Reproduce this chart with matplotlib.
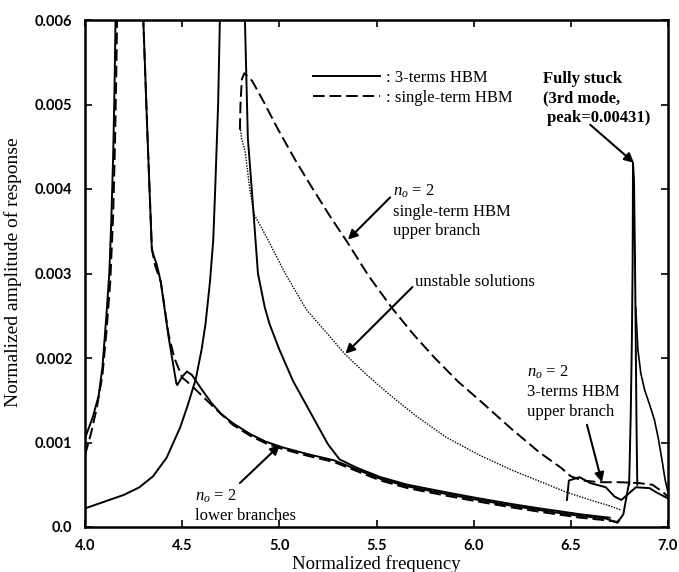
import matplotlib
matplotlib.use("Agg")
import matplotlib.pyplot as plt
import numpy as np

# ---------------- data ----------------
# 1st mode, 3-terms HBM (solid), continues into lower branch
m1_solid_f = [4.00, 4.04, 4.07, 4.09, 4.11, 4.125, 4.135, 4.145, 4.152, 4.157, 4.162, 4.23,
              4.285, 4.30, 4.322, 4.344, 4.352, 4.37, 4.39, 4.43, 4.47, 4.475, 4.50, 4.525,
              4.55, 4.60, 4.65, 4.70, 4.76, 4.85, 4.93, 5.02, 5.15, 5.28, 5.40, 5.52, 5.66,
              5.86, 6.00, 6.20, 6.34, 6.55, 6.68, 6.74, 6.77, 6.80]
m1_solid_a = [0.00105, 0.0013, 0.00155, 0.0019, 0.0025, 0.0030, 0.0036, 0.0044, 0.0052, 0.0060, 0.0072, 0.02,
              0.0072, 0.0060, 0.0046, 0.00328, 0.00322, 0.0031, 0.0029, 0.00225, 0.0017, 0.00168, 0.00178, 0.00184,
              0.0018, 0.00163, 0.00147, 0.00134, 0.00123, 0.00110, 0.00101, 0.00094, 0.00086, 0.00079, 0.00068, 0.00057, 0.00048,
              0.00039, 0.00033, 0.00025, 0.00020, 0.00013, 0.00010, 0.00005, 0.00015, 0.00053]

# 1st mode, single-term HBM (dashed), continues into lower branch
m1_dash_f = [4.00, 4.03, 4.06, 4.09, 4.11, 4.13, 4.145, 4.155, 4.162, 4.167, 4.17, 4.23,
             4.285, 4.30, 4.322, 4.344, 4.36, 4.39, 4.43, 4.46, 4.50, 4.55, 4.59, 4.68, 4.76,
             4.85, 4.93, 5.02, 5.15, 5.28, 5.40, 5.52, 5.66, 5.86, 6.00, 6.20, 6.34, 6.55,
             6.68, 6.74, 6.76]
m1_dash_a = [0.00085, 0.0011, 0.0014, 0.0018, 0.0023, 0.0029, 0.0037, 0.0046, 0.0055, 0.0063, 0.0072, 0.02,
             0.0072, 0.0060, 0.0046, 0.0033, 0.0031, 0.0029, 0.00228, 0.0020, 0.00177, 0.00167, 0.00158, 0.00138, 0.00121,
             0.00108, 0.00099, 0.00092, 0.00084, 0.00077, 0.00066, 0.00055, 0.00046, 0.00037, 0.00031, 0.00023, 0.00018, 0.00011,
             0.00008, 0.00006, 0.00012]

# 2nd mode resonance, 3-terms HBM (solid)
m2_f = [4.00, 4.10, 4.20, 4.28, 4.35, 4.42, 4.49, 4.53, 4.57, 4.60, 4.62, 4.643, 4.66, 4.67,
        4.685, 4.694, 4.70, 4.76, 4.818, 4.823, 4.838, 4.858, 4.89, 4.925, 4.95, 5.00, 5.07,
        5.13, 5.19, 5.25, 5.31, 5.40, 5.52, 5.66, 5.86, 6.00, 6.20, 6.34, 6.55, 6.70]
m2_a = [0.00022, 0.00030, 0.00038, 0.00047, 0.00060, 0.00082, 0.00118, 0.00145, 0.00175, 0.0021, 0.0024, 0.0029, 0.0034, 0.0040,
        0.0050, 0.0060, 0.0068, 0.02, 0.0068, 0.0060, 0.0046, 0.0040, 0.0030, 0.0026, 0.0024, 0.0021, 0.00173,
        0.00148, 0.00123, 0.00098, 0.00080, 0.00070, 0.00059, 0.00050, 0.00041, 0.00035, 0.00027, 0.00022, 0.00015, 0.00011]

# single-term HBM upper branch (dashed)
up1_f = [4.797, 4.80, 4.807, 4.82, 4.86, 4.92, 4.99, 5.08, 5.17, 5.26, 5.35, 5.46, 5.58, 5.69,
         5.80, 5.92, 6.03, 6.20, 6.34, 6.45, 6.50, 6.56, 6.65, 6.75, 6.85, 6.92, 6.97, 7.00]
up1_a = [0.0047, 0.0050, 0.0053, 0.00537, 0.00528, 0.00503, 0.00472, 0.00435, 0.00401, 0.00368, 0.00337, 0.00297, 0.00259, 0.00228,
         0.0020, 0.00172, 0.0015, 0.00115, 0.00088, 0.0007, 0.0006, 0.00055, 0.00053, 0.00053, 0.00052, 0.0005, 0.00042, 0.00036]

# unstable solutions (dotted)
uns_f = [4.797, 4.805, 4.823, 4.848, 4.87, 4.93, 5.03, 5.14, 5.25, 5.34, 5.45, 5.56, 5.70, 5.86,
         6.03, 6.20, 6.34, 6.48, 6.60, 6.70, 6.76]
uns_a = [0.0048, 0.0046, 0.00446, 0.0040, 0.0037, 0.00345, 0.0030, 0.00257, 0.00228, 0.00204, 0.0018, 0.00158, 0.00132, 0.00106,
         0.00085, 0.00067, 0.00054, 0.00041, 0.00032, 0.00025, 0.0002]

# 3-terms HBM upper branch (solid loop)
up3_f = [6.48, 6.49, 6.545, 6.60, 6.68, 6.725, 6.76, 6.79, 6.835, 6.905, 6.94, 6.99, 7.00]
up3_a = [0.00032, 0.00055, 0.00059, 0.00052, 0.00047, 0.00036, 0.00032, 0.00038, 0.00047, 0.00046, 0.00041, 0.00035, 0.00034]

# 3rd mode, fully stuck (solid spike, peak = 0.00431)
m3_f = [6.80, 6.808, 6.814, 6.818, 6.82, 6.825, 6.83, 6.834, 6.838, 6.842]
m3_a = [0.00050, 0.0013, 0.0022, 0.0031, 0.00431, 0.0041, 0.0032, 0.0022, 0.0012, 0.00050]

# tail of the 3rd-mode peak towards the right border
tail_f = [6.834, 6.845, 6.86, 6.88, 6.905, 6.93, 6.95, 6.97, 6.985, 7.00]
tail_a = [0.0026, 0.0021, 0.00182, 0.00162, 0.00145, 0.00127, 0.00105, 0.00078, 0.00056, 0.00041]

x_ticks = [4.0, 4.5, 5.0, 5.5, 6.0, 6.5, 7.0]
x_ticklabels = ["4.0", "4.5", "5.0", "5.5", "6.0", "6.5", "7.0"]
y_ticks = [0.0, 0.001, 0.002, 0.003, 0.004, 0.005, 0.006]
y_ticklabels = ["0.0", "0.001", "0.002", "0.003", "0.004", "0.005", "0.006"]

# ---------------- figure ----------------
plt.rcParams['mathtext.fontset'] = 'custom'
plt.rcParams['mathtext.rm'] = 'Liberation Serif'
plt.rcParams['mathtext.it'] = 'Liberation Serif:italic'

SERIF = 'Liberation Serif'
fig = plt.figure(figsize=(6.79, 5.72), dpi=100)
ax = fig.add_axes([85/679, 1-527/572, (668-85)/679, (527-20)/572])

lw = 1.4
DASH = (0, (6, 2.5))
ax.plot(m1_solid_f, m1_solid_a, color='black', lw=lw, solid_joinstyle='round')
ax.plot(m1_dash_f, m1_dash_a, color='black', lw=lw, ls=DASH)
ax.plot(m2_f, m2_a, color='black', lw=lw)
ax.plot(up1_f, up1_a, color='black', lw=lw, ls=DASH)
ax.plot(uns_f, uns_a, color='black', lw=1.0, ls=(0, (1, 1)))
ax.plot(up3_f, up3_a, color='black', lw=lw)
ax.plot(m3_f, m3_a, color='black', lw=lw)
ax.plot(tail_f, tail_a, color='black', lw=1.2)

ax.set_xlim(4.0, 7.0)
ax.set_ylim(0.0, 0.006)
ax.set_xticks(x_ticks)
ax.set_xticklabels(x_ticklabels)
ax.set_yticks(y_ticks)
ax.set_yticklabels(y_ticklabels)
ax.tick_params(direction='in', top=True, right=True, length=5, width=1.2, labelsize=10.5)
ax.tick_params(axis='y', pad=9)
ax.tick_params(axis='x', pad=9)
for lab in ax.get_xticklabels() + ax.get_yticklabels():
    lab.set_family('Lato')
    lab.set_fontweight('bold')
for sp in ax.spines.values():
    sp.set_linewidth(1.8)

ax.set_xlabel("Normalized frequency", family=SERIF, fontsize=13.5, va='center')
ax.xaxis.set_label_coords((376-85)/583, (527-564)/507)
ax.set_ylabel("Normalized amplitude of response", family=SERIF, fontsize=14, va='center')
ax.yaxis.set_label_coords((13-85)/583, (527-272)/507)

# legend
leg = ax.legend([plt.Line2D([], [], color='black', lw=lw),
                 plt.Line2D([], [], color='black', lw=lw, ls=DASH)],
                [": 3-terms HBM", ": single-term HBM"],
                loc='upper left', bbox_to_anchor=((313-85)/583, 1-(70-20)/507),
                frameon=False, handlelength=4.0, handletextpad=0.4, labelspacing=0.25,
                borderaxespad=0, borderpad=0, prop={'family': SERIF, 'size': 12})

tk = dict(family=SERIF, fontsize=12, va='center', ha='left', linespacing=1.3)
arr = dict(arrowstyle='-|>', color='black', lw=1.5, mutation_scale=14, shrinkA=0, shrinkB=0)

ax.text(6.357, 0.00507, "Fully stuck\n(3rd mode,\n peak=0.00431)", fontweight='bold', **tk)
ax.annotate("", xy=(6.825, 0.00431), xytext=(6.60, 0.00476), arrowprops=arr)

ax.text(5.585, 0.00374, "$n_o$ = 2\nsingle-term HBM\nupper branch", **tk)
ax.annotate("", xy=(5.353, 0.0034), xytext=(5.57, 0.0039), arrowprops=arr)

ax.text(5.70, 0.0029, "unstable solutions", **tk)
ax.annotate("", xy=(5.34, 0.00205), xytext=(5.685, 0.00284), arrowprops=arr)

ax.text(6.275, 0.0016, "$n_o$ = 2\n3-terms HBM\nupper branch", **tk)
ax.annotate("", xy=(6.66, 0.00053), xytext=(6.583, 0.00121), arrowprops=arr)

ax.text(4.566, 0.00025, "$n_o$ = 2\nlower branches", **tk)
ax.annotate("", xy=(5.003, 0.00097), xytext=(4.797, 0.00052), arrowprops=arr)

fig.savefig("out.png", dpi=100)
